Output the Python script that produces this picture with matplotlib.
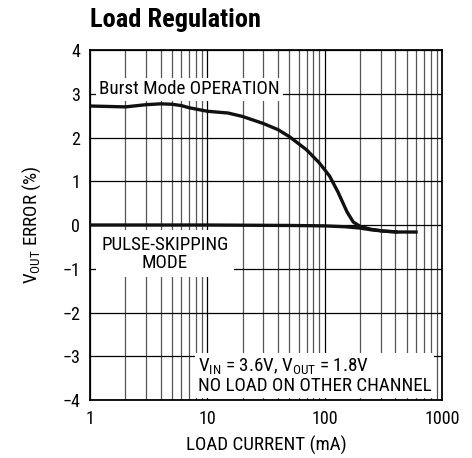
import matplotlib
matplotlib.use("Agg")
import matplotlib.pyplot as plt
from matplotlib import font_manager
from matplotlib.ticker import FixedLocator, NullFormatter

# pick a condensed font if there is one
names = {f.name for f in font_manager.fontManager.ttflist}
fam = 'DejaVu Sans'
for cand in ['Roboto Condensed', 'Archivo Narrow', 'PT Sans Narrow', 'Liberation Sans Narrow',
             'Fira Sans Condensed', 'IBM Plex Sans Condensed', 'Liberation Sans']:
    if cand in names:
        fam = cand
        break
plt.rcParams['font.family'] = [fam, 'DejaVu Sans']
plt.rcParams['mathtext.fontset'] = 'custom'
plt.rcParams['mathtext.rm'] = fam

# data
burst_x = [1, 2, 3, 4, 5, 6, 7, 10, 15, 20, 30, 40, 50, 70, 90, 110, 130, 155, 175, 200, 250, 320, 420, 620]
burst_y = [2.72, 2.70, 2.75, 2.77, 2.76, 2.73, 2.68, 2.60, 2.56, 2.48, 2.32, 2.18, 2.02, 1.72, 1.42, 1.12, 0.75, 0.30, 0.07, -0.03, -0.10, -0.14, -0.16, -0.16]
pulse_x = [1, 10, 50, 100, 150, 200, 250, 320, 420]
pulse_y = [0.0, 0.0, -0.01, -0.02, -0.04, -0.07, -0.11, -0.14, -0.16]

xticks = [1, 10, 100, 1000]
xlabels = ['1', '10', '100', '1000']
yticks = [-4, -3, -2, -1, 0, 1, 2, 3, 4]

fig = plt.figure(figsize=(4.72, 4.58), dpi=100)
ax = fig.add_axes([0.1907, 0.1266, 0.7458, 0.7642])

ax.set_xscale('log')
ax.set_xlim(1, 1000)
ax.set_ylim(-4, 4)

minors = [m * d for d in (1, 10, 100) for m in range(2, 10)]
ax.xaxis.set_minor_locator(FixedLocator(minors))
ax.xaxis.set_minor_formatter(NullFormatter())
ax.set_xticks(xticks)
ax.set_xticklabels(xlabels)
ax.set_yticks(yticks)
ax.set_yticklabels([str(v).replace('-', '\u2212') for v in yticks])
ax.tick_params(which='both', length=0, labelsize=13, pad=7)

ax.grid(True, which='major', color='black', lw=0.9)
ax.grid(True, which='minor', axis='x', color='#555555', lw=0.9)
ax.set_axisbelow(True)
for s in ax.spines.values():
    s.set_linewidth(1.3)

ax.plot(pulse_x, pulse_y, color='#111111', lw=2.4, solid_capstyle='butt', zorder=3)
ax.plot(burst_x, burst_y, color='#111111', lw=2.4, solid_capstyle='butt', zorder=3)

box = dict(facecolor='white', edgecolor='none', pad=2)
ax.text(1.2, 3.1, 'Burst Mode OPERATION', fontsize=13.7, va='center', ha='left', bbox=box, zorder=2)
ax.text(4.36, -0.66, 'PULSE-SKIPPING\nMODE', fontsize=13.7, va='center', ha='center',
        linespacing=1.0, bbox=dict(facecolor='white', edgecolor='none', pad=4), zorder=2)
ax.text(8.3, -3.45, 'V$_{\\mathregular{IN}}$ = 3.6V, V$_{\\mathregular{OUT}}$ = 1.8V\nNO LOAD ON OTHER CHANNEL',
        fontsize=13.7, va='center', ha='left', linespacing=1.0, bbox=box, zorder=2)

ax.set_xlabel('LOAD CURRENT (mA)', fontsize=13.7, labelpad=6)
ax.set_ylabel('V$_{\\mathregular{OUT}}$ ERROR (%)', fontsize=13.7, labelpad=14)

fig.text(0.1907, 0.941, 'Load Regulation', fontsize=19, fontweight='bold', ha='left', va='baseline')

fig.savefig('out.png', dpi=100)
